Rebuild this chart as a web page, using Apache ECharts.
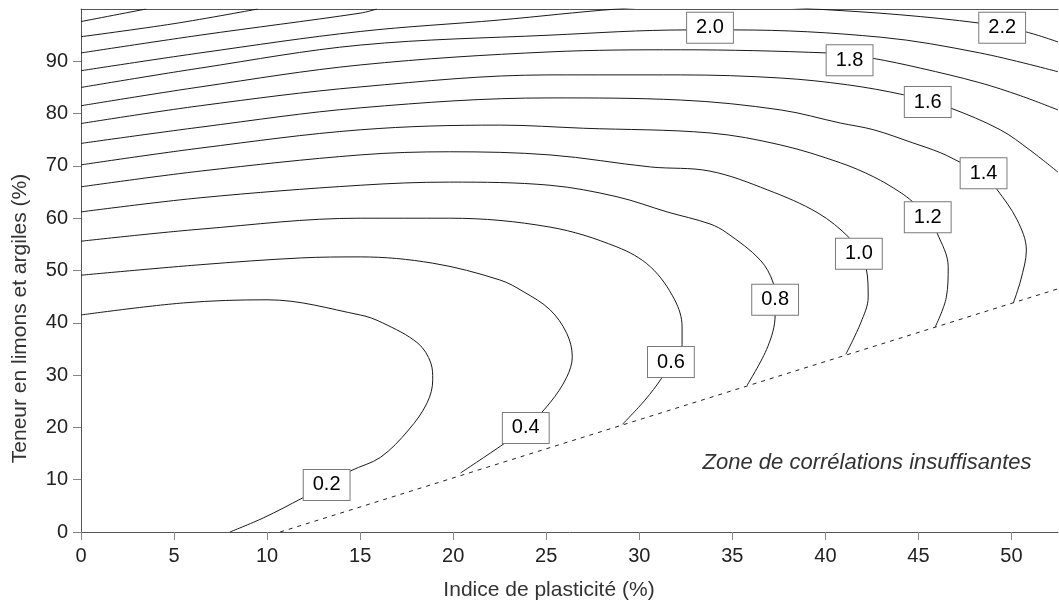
<!DOCTYPE html>
<html>
<head>
<meta charset="utf-8">
<title>Indice de plasticité</title>
<script src="https://cdn.jsdelivr.net/npm/echarts@6/dist/echarts.min.js"></script>
<style>
  html, body { margin: 0; padding: 0; background: #fff; }
  #chart { width: 1059px; height: 608px; }
</style>
</head>
<body>
<div id="chart"></div>
<script>
// ticks
const xTicks = [0, 5, 10, 15, 20, 25, 30, 35, 40, 45, 50]
const yTicks = [0, 10, 20, 30, 40, 50, 60, 70, 80, 90]

// contour levels (one line per level)
const levels = [0.2, 0.4, 0.6, 0.8, 1.0, 1.2, 1.4, 1.6, 1.8, 2.0, 2.2, 2.4, 2.6, 2.8]

// [IP, teneur] points
const c02 = [[0, 41.5], [5.5, 43.8], [10, 44.4], [15, 41.5], [16.2, 40.0], [18.1, 36.1], [18.8, 32.3], [18.9, 29.1], [18.6, 24.7], [17.6, 19.5], [16.1, 14.3], [14.5, 11.7], [13.2, 9.0], [11.9, 6.5], [9.8, 2.7], [8.0, 0]]
const c04 = [[0, 49.1], [6.4, 51.1], [11.8, 52.4], [15, 52.6], [18.9, 51.4], [22.5, 48.2], [23.8, 45.9], [25.2, 42.5], [26.1, 38.0], [26.4, 33.5], [26.1, 29.6], [25.2, 24.7], [23.9, 19.9], [22.7, 16.8], [20.4, 11.3]]
const c06 = [[0, 55.6], [6.4, 57.9], [15, 60.0], [19.8, 60.0], [25.2, 58.3], [28.8, 54.5], [30.6, 50.7], [31.9, 44.4], [32.3, 39.2], [32.3, 35.8], [31.7, 32.5], [31.2, 29.4], [30.3, 25.2], [29.1, 20.6]]
const c08 = [[0, 61.2], [6.4, 63.9], [15, 66.3], [19.8, 66.9], [25.2, 66.3], [28.8, 64.1], [31.5, 61.2], [33.8, 58.9], [34.7, 57.2], [36.5, 52.0], [37.2, 47.6], [37.3, 44.4], [37.3, 41.5], [36.9, 35.4], [35.8, 28.1]]
const c10 = [[0, 66.0], [6.4, 69.0], [15, 72.1], [19.8, 72.7], [25.2, 72.1], [30.6, 69.8], [33.8, 69.0], [36.9, 65.4], [39.6, 61.0], [41.3, 56.2], [41.8, 53.2], [42.2, 50.3], [42.3, 44.9], [41.9, 40.0], [41.1, 34.0]]
const c12 = [[0, 70.2], [6.4, 73.4], [15, 76.9], [22.5, 77.8], [27.0, 77.2], [33.8, 76.3], [37.6, 74.0], [40.8, 70.6], [42.6, 67.9], [44.0, 65.0], [44.7, 63.1], [45.5, 60.2], [46.0, 57.2], [46.6, 50.7], [46.5, 44.9], [45.9, 39.2]]
const c14 = [[0, 74.3], [6.4, 77.4], [15, 81.1], [25.2, 83.0], [32.2, 82.6], [37.6, 80.7], [40.8, 78.2], [42.6, 76.9], [44.7, 74.4], [46.2, 72.5], [47.3, 70.6], [48.5, 68.6], [49.2, 65.6], [50.3, 59.7], [50.8, 53.9], [50.5, 48.2], [50.1, 43.8]]
const c16 = [[0, 78.1], [6.4, 81.5], [15, 85.1], [25.2, 87.4], [32.2, 87.4], [37.6, 86.8], [41.2, 85.5], [44.2, 83.6], [45.5, 82.2], [46.7, 81.1], [49.4, 76.9], [51.0, 73.0], [52.5, 68.8]]
const c18 = [[0, 81.5], [6.4, 85.1], [15, 89.3], [25.2, 91.8], [32.2, 92.2], [40.1, 91.6], [41.3, 91.0], [42.5, 90.6], [45.1, 88.7], [48.3, 85.9], [50.5, 83.4], [52.5, 80.7]]
const c20 = [[0, 85.0], [6.4, 88.7], [15, 93.1], [25.2, 95.0], [32.6, 96.0], [35.1, 96.0], [43.0, 94.6], [48.3, 91.6], [52.5, 88.0]]
const c22 = [[0, 88.2], [6.4, 91.6], [15, 95.7], [22.5, 97.9], [28.8, 100], [34, 101], [39.4, 100], [44.0, 98.9], [48.3, 97.3], [49.5, 96.4], [50.8, 95.6], [52.5, 93.7]]
const c24 = [[0, 91.6], [6.4, 95.0], [15, 99.2], [15.9, 100]]
const c26 = [[0, 94.7], [5, 97.2], [9.5, 100]]
const c28 = [[0, 97.6], [3.5, 100]]

// dashed limit of the valid zone
const limitLine = [[10.7, 0], [52.5, 46.5]]

// boxed contour labels [x, y, level]
const contourLabels = [
  [13.2, 9.0, 0.2], [23.9, 19.9, 0.4], [31.7, 32.5, 0.6], [37.3, 44.4, 0.8],
  [41.8, 53.2, 1.0], [45.5, 60.2, 1.2], [48.5, 68.6, 1.4], [45.5, 82.2, 1.6],
  [41.3, 90.2, 1.8], [33.8, 96.4, 2.0], [49.5, 96.4, 2.2]
]

const zoneText = 'Zone de corrélations insuffisantes'
const zoneAt = [33.4, 13.2]

const contours = [c02, c04, c06, c08, c10, c12, c14, c16, c18, c20, c22, c24, c26, c28]
const font = "'Liberation Sans', Arial, sans-serif"

const chart = echarts.init(document.getElementById('chart'))

const series = contours.map((pts, i) => ({
  name: levels[i].toFixed(1),
  type: 'line',
  data: pts,
  symbol: 'none',
  smooth: 0.35,
  clip: true,
  silent: true,
  lineStyle: { color: '#1a1a1a', width: 1 },
  z: 2,
}))

series.push({
  name: 'limite',
  type: 'line',
  data: limitLine,
  symbol: 'none',
  silent: true,
  lineStyle: { color: '#222', width: 1, type: [4, 5] },
  z: 2,
})

series.push({
  name: 'labels',
  type: 'scatter',
  data: contourLabels,
  symbolSize: 1,
  silent: true,
  itemStyle: { color: '#fff', opacity: 1 },
  label: {
    show: true,
    position: 'inside',
    formatter: (p) => p.value[2].toFixed(1),
    fontFamily: font,
    fontSize: 20,
    lineHeight: 21,
    color: '#000',
    opacity: 1,
    textBorderWidth: 0,
    backgroundColor: '#fff',
    borderColor: '#7a7a7a',
    borderWidth: 1,
    padding: [5, 9, 4, 9],
  },
  z: 5,
})

series.push({
  name: 'zone',
  type: 'scatter',
  data: [zoneAt],
  symbolSize: 1,
  silent: true,
  itemStyle: { color: '#fff', opacity: 1 },
  label: {
    show: true,
    position: 'inside',
    align: 'left',
    verticalAlign: 'middle',
    formatter: zoneText,
    fontFamily: font,
    fontStyle: 'italic',
    fontSize: 22,
    color: '#333',
    opacity: 1,
    textBorderWidth: 0,
  },
  z: 5,
})

chart.setOption({
  animation: false,
  backgroundColor: '#fff',
  grid: { left: 81, right: 1, top: 9, bottom: 76, containLabel: false, outerBoundsMode: 'none' },
  xAxis: [
    {
      type: 'value',
      min: 0,
      max: 52.5,
      name: 'Indice de plasticité (%)',
      nameLocation: 'middle',
      nameGap: 48,
      nameTextStyle: { fontFamily: font, fontSize: 21, color: '#333', padding: [0, 41, 0, 0] },
      axisLine: { show: true, onZero: false, lineStyle: { color: '#555', width: 1 } },
      axisTick: { show: true, length: 8, customValues: xTicks, lineStyle: { color: '#888' } },
      axisLabel: { customValues: xTicks, margin: 14, fontFamily: font, fontSize: 20, color: '#222' },
      splitLine: { show: false },
    },
    {
      type: 'value',
      position: 'top',
      min: 0,
      max: 52.5,
      axisLine: { show: true, onZero: false, lineStyle: { color: '#555', width: 1 } },
      axisTick: { show: false },
      axisLabel: { show: false },
      splitLine: { show: false },
    },
  ],
  yAxis: {
    type: 'value',
    min: 0,
    max: 100,
    name: 'Teneur en limons et argiles (%)',
    nameLocation: 'middle',
    nameGap: 50,
    nameTextStyle: { fontFamily: font, fontSize: 21, color: '#333', padding: [0, 96, 0, 0] },
    axisLine: { show: true, onZero: false, lineStyle: { color: '#555', width: 1 } },
    axisTick: { show: true, length: 8, customValues: yTicks, lineStyle: { color: '#888' } },
    axisLabel: { customValues: yTicks, margin: 13, fontFamily: font, fontSize: 20, color: '#222' },
    splitLine: { show: false },
  },
  series: series,
})
</script>
</body>
</html>
